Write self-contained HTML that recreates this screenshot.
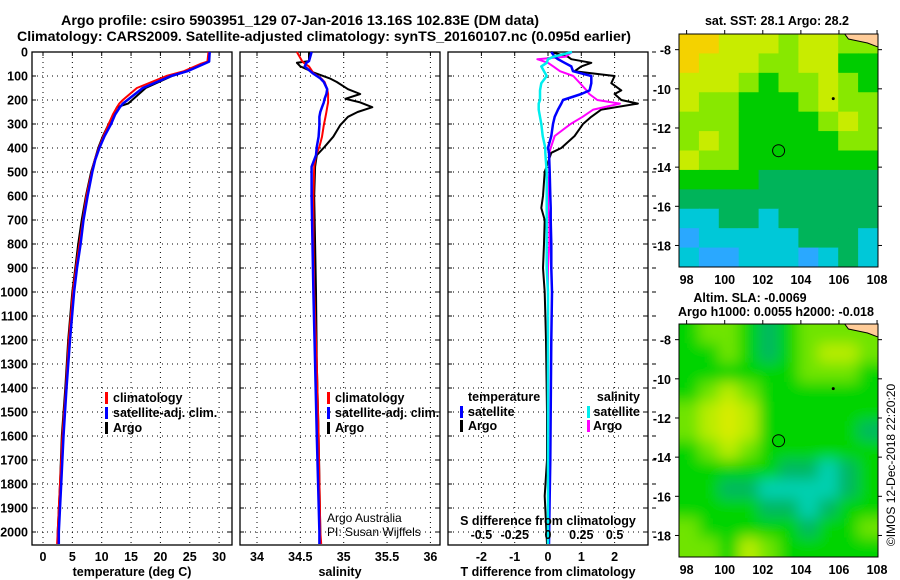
<!DOCTYPE html>
<html><head><meta charset="utf-8"><style>
html,body{margin:0;padding:0;background:#fff;}
svg{display:block;}
text{font-family:"Liberation Sans",sans-serif;font-weight:bold;font-size:12.5px;fill:#000;}
</style></head><body>
<svg id="chart" width="900" height="580" viewBox="0 0 900 580" xmlns="http://www.w3.org/2000/svg">
<text x="300" y="25" text-anchor="middle" style="font-size:14px" textLength="478" lengthAdjust="spacingAndGlyphs">Argo profile: csiro 5903951_129 07-Jan-2016 13.16S 102.83E (DM data)</text>
<text x="324" y="41" text-anchor="middle" style="font-size:14px" textLength="614" lengthAdjust="spacingAndGlyphs">Climatology: CARS2009. Satellite-adjusted climatology: synTS_20160107.nc (0.095d earlier)</text>
<g id="p1"></g>
<g id="p2"></g>
<g id="p3"></g>
<g id="m1"></g>
<g id="m2"></g>
<text transform="translate(895,465) rotate(-90)" text-anchor="middle" style="font-weight:normal;font-size:12px">©IMOS 12-Dec-2018 22:20:20</text>
</svg>
<script>
// ---- profile data ----
const tDepth = [0,40,50,80,100,150,200,215,230,260,300,350,400,450,500,600,700,800,900,1000,1200,1400,1600,1800,2000,2050];
const tArgo  = [28.3,28.3,27,24.5,22,17.5,15.2,14.5,12.6,12,11.2,10.2,9.4,8.8,8.2,7.3,6.6,6.0,5.5,5.0,4.3,3.8,3.2,2.9,2.5,2.5];
const tClim  = [28.2,28,26.8,24,21,16,13.6,13,12.6,11.9,11.2,10.3,9.5,8.8,8.3,7.4,6.8,6.2,5.6,5.1,4.4,3.9,3.3,2.9,2.5,2.4];
const tSat   = [28.4,28.3,27.4,24.6,21.8,17,14.4,13.6,13.1,12.3,11.6,10.5,9.6,8.9,8.4,7.6,6.9,6.4,5.8,5.3,4.6,4.0,3.5,3.1,2.7,2.7];
const sDepth = [0,38,45,60,88,110,125,155,175,195,210,230,250,270,305,353,395,430,478,600,800,1000,1300,1600,2000,2050];
const sArgo  = [34.6,34.6,34.46,34.5,34.67,34.84,34.92,35.05,35.19,35.02,35.19,35.33,35.16,35.05,34.96,34.88,34.78,34.69,34.67,34.66,34.67,34.68,34.69,34.71,34.73,34.73];
const sClim  = [34.46,34.52,34.54,34.6,34.65,34.74,34.78,34.81,34.82,34.82,34.82,34.81,34.8,34.79,34.77,34.75,34.72,34.68,34.66,34.65,34.65,34.66,34.69,34.71,34.73,34.74];
const sSat   = [34.63,34.6,34.57,34.55,34.64,34.73,34.77,34.81,34.8,34.78,34.77,34.75,34.73,34.72,34.72,34.71,34.69,34.68,34.63,34.63,34.64,34.65,34.67,34.69,34.72,34.72];
const dDepth = [0,20,30,45,60,80,100,130,160,175,200,215,240,270,300,350,400,420,500,600,650,700,800,900,1000,1200,1500,1700,1850,2050];
const dTArgo = [0.1,0.6,0.7,1.3,1.0,0.8,2.0,1.9,2.2,2.0,2.2,2.7,1.6,1.3,1.05,0.8,0.4,0.1,-0.1,-0.15,-0.2,-0.1,-0.12,-0.15,-0.1,-0.06,-0.03,-0.03,-0.1,-0.03];
const dTSat  = [0.1,0.2,0.3,0.5,0.7,0.75,1.3,1.3,1.25,1.0,0.45,0.4,0.3,0.2,0.15,0.1,0.0,0.03,0.05,0.07,0.08,0.08,0.1,0.1,0.12,0.1,0.08,0.07,0.05,0.03];
const dSArgo = [0.18,0.13,-0.08,0.0,0.04,0.09,0.19,0.24,0.29,0.31,0.37,0.54,0.34,0.26,0.17,0.05,0.02,0.01,0.01,0.0,0.0,0.01,0.01,0.0,0.0,0.0,0.0,0.0,0.0,0.0];
const dSSat  = [0.18,0.04,0.0,-0.01,-0.05,-0.03,-0.01,-0.05,-0.06,-0.06,-0.06,-0.07,-0.07,-0.06,-0.05,-0.04,-0.02,-0.02,-0.01,-0.01,-0.01,-0.01,-0.01,-0.01,0.0,0.0,0.0,0.0,0.0,0.0];
const depthTicks = [0,100,200,300,400,500,600,700,800,900,1000,1100,1200,1300,1400,1500,1600,1700,1800,1900,2000];
const tTicks = [0,5,10,15,20,25,30];
const sTicks = [34,34.5,35,35.5,36];
const sTickLabels = ["34","34.5","35","35.5","36"];
const dTTicks = [-2,-1,0,1,2];
const dSTicks = [-0.5,-0.25,0,0.25,0.5];
const dSTickLabels = ["-0.5","-0.25","0","0.25","0.5"];
// ---- map data (coarse grids, 10 cols x 12 rows; L = land) ----
const sstGrid = ["665554554L","6555445533","5554344543","5443334544","4443333454","4543333344","5443333333","3333222222","2222222222","1122122222","0111112221","1001110121"];
const slaGrid = ["344323444L","3343234554","3333334443","3454333333","4565333333","4565333332","3454333333","3333322123","3322111123","3333221233","4333332334","4435433333"];
const lonTicks = [98,100,102,104,106,108];
const latTicks = [-8,-10,-12,-14,-16,-18];
const argoLon = 102.83, argoLat = -13.16;

const NS="http://www.w3.org/2000/svg";
function mk(parent,tag,attrs){const e=document.createElementNS(NS,tag);for(const k in attrs)e.setAttribute(k,attrs[k]);parent.appendChild(e);return e;}
const Y0=52, Y1=545, DPX=0.24;
function yD(d){return Y0+d*DPX;}

function panel(g,left,right,xs,xticks,xlabels,gridx,labelYAxis){
  mk(g,'rect',{x:left,y:Y0,width:right-left,height:Y1-Y0,fill:'#fff',stroke:'#000','stroke-width':1.3});
  for(const d of depthTicks){
    const y=yD(d);
    const l=mk(g,'line',{x1:left,x2:right,y1:y,y2:y,stroke:'#000','stroke-width':1,'stroke-dasharray':'1,4'});
    
    
    mk(g,'line',{x1:left,x2:left+4,y1:y,y2:y,stroke:'#000'});
    mk(g,'line',{x1:right-4,x2:right,y1:y,y2:y,stroke:'#000'});
    if(labelYAxis){
      const t=mk(g,'text',{x:28,y:y+4.5,'text-anchor':'end'});
      t.textContent=d;
      
      
    }
  }
  for(let i=0;i<gridx.length;i++){
    const x=xs(gridx[i]);
    const l=mk(g,'line',{x1:x,x2:x,y1:Y0,y2:Y1,stroke:'#000','stroke-width':1,'stroke-dasharray':'1,4'});
    
    
    mk(g,'line',{x1:x,x2:x,y1:Y0,y2:Y0+4,stroke:'#000'});
  }
  for(let i=0;i<xticks.length;i++){
    const t=mk(g,'text',{x:xs(xticks[i]),y:561,'text-anchor':'middle'});
    t.textContent=xlabels[i];
    
    
  }
}
function series(g,xs,vals,depths,color,w,name){
  const pts=vals.map((v,i)=>xs(v).toFixed(1)+','+yD(depths[i]).toFixed(1)).join(' ');
  const p=mk(g,'polyline',{points:pts,fill:'none',stroke:color,'stroke-width':w,'stroke-linejoin':'round'});
  
  
}
function legend(g,x,y,color,label,name){
  mk(g,'rect',{x:x,y:y-10,width:3,height:12,fill:color});
  const t=mk(g,'text',{x:x+8,y:y});
  t.textContent=label;
  
  
}
function txt(g,x,y,s,anchor,name,style){
  const t=mk(g,'text',{x:x,y:y,'text-anchor':anchor||'start'});
  if(style)t.setAttribute('style',style);
  t.textContent=s;
  
  
  return t;
}

// Panel 1 temperature
const p1=document.getElementById('p1');
const xT=v=>43+v*5.87;
panel(p1,32,232,xT,tTicks,tTicks.map(String),tTicks,true);
series(p1,xT,tArgo,tDepth,'#000',2,'argo-temperature-line');
series(p1,xT,tClim,tDepth,'#f00',2,'climatology-temperature-line');
series(p1,xT,tSat,tDepth,'#00f',2.5,'satellite-temperature-line');
legend(p1,105,402,'#f00','climatology','legend-climatology');
legend(p1,105,417,'#00f','satellite-adj. clim.','legend-satellite');
legend(p1,105,432,'#000','Argo','legend-argo');
txt(p1,132,576,'temperature (deg C)','middle','x-axis-title');

// Panel 2 salinity
const p2=document.getElementById('p2');
const xS=v=>257+(v-34)*86.7;
panel(p2,240,440,xS,sTicks,sTickLabels,sTicks,false);
series(p2,xS,sArgo,sDepth,'#000',2,'argo-salinity-line');
series(p2,xS,sClim,sDepth,'#f00',2,'climatology-salinity-line');
series(p2,xS,sSat,sDepth,'#00f',2.5,'satellite-salinity-line');
legend(p2,327,402,'#f00','climatology','legend-climatology');
legend(p2,327,417,'#00f','satellite-adj. clim.','legend-satellite');
legend(p2,327,432,'#000','Argo','legend-argo');
txt(p2,327,522,'Argo Australia','start','argo-australia-note','font-weight:normal;font-size:12px');
txt(p2,327,536,'PI: Susan Wijffels','start','pi-note','font-weight:normal;font-size:12px');
txt(p2,340,576,'salinity','middle','x-axis-title');

// Panel 3 differences
const p3=document.getElementById('p3');
const xDT=v=>548+v*33.3;
const xDS=v=>548+v*133.2;
panel(p3,448,648,xDT,dTTicks,dTTicks.map(String),dTTicks,false);
for(const d of depthTicks){mk(p3,'line',{x1:652,x2:656,y1:yD(d),y2:yD(d),stroke:'#000'});}
series(p3,xDT,dTArgo,dDepth,'#000',2,'argo-temperature-diff-line');
series(p3,xDS,dSArgo,dDepth,'#f0f',2,'argo-salinity-diff-line');
series(p3,xDT,dTSat,dDepth,'#00f',2.5,'satellite-temperature-diff-line');
series(p3,xDS,dSSat,dDepth,'#0ee',2.5,'satellite-salinity-diff-line');
txt(p3,468,401,'temperature','start','legend-temperature-heading');
legend(p3,460,416,'#00f','satellite','legend-temp-satellite');
legend(p3,460,430,'#000','Argo','legend-temp-argo');
txt(p3,640,401,'salinity','end','legend-salinity-heading');
mk(p3,'rect',{x:587,y:406,width:3,height:12,fill:'#0ee'});
txt(p3,640,416,'satellite','end','legend-sal-satellite');
mk(p3,'rect',{x:587,y:420,width:3,height:12,fill:'#f0f'});
txt(p3,593,430,'Argo','start','legend-sal-argo');
txt(p3,548,525,'S difference from climatology','middle','s-axis-title');
for(let i=0;i<dSTicks.length;i++){txt(p3,xDS(dSTicks[i]),539,dSTickLabels[i],'middle','s-tick-label');}
txt(p3,548,576,'T difference from climatology','middle','x-axis-title');

// Maps
const sstColors={'0':'#2aa8ff','1':'#00c8d8','2':'#00b45a','3':'#00cc00','4':'#88e800','5':'#c8ec00','6':'#f4d200'};
const slaColors={'1':'#00d0b0','2':'#00b860','3':'#00d400','4':'#70e400','5':'#b8ec00','6':'#d8ec00'};
function map(g,top,grid,colors,blur,id){
  const L=679,R=878,B=top+233;
  const lon0=97.6,lon1=108.05,lat0=-7.2,lat1=-19.1;
  const xm=v=>L+(v-lon0)/(lon1-lon0)*(R-L);
  const ym=v=>top+(v-lat0)/(lat1-lat0)*(B-top);
  const cp=mk(g,'clipPath',{id:'c'+id});mk(cp,'rect',{x:L,y:top,width:R-L,height:B-top});
  const inner=mk(g,'g',{'clip-path':'url(#c'+id+')'});
  const cells=mk(inner,'g',blur?{filter:'url(#f'+id+')'}:{});
  if(blur){const f=mk(g,'filter',{id:'f'+id,x:'-10%',y:'-10%',width:'120%',height:'120%'});mk(f,'feGaussianBlur',{stdDeviation:7});}
  const nr=grid.length,nc=grid[0].length,cw=(R-L)/nc,ch=(B-top)/nr;
  for(let r=0;r<nr;r++)for(let c=0;c<nc;c++){
    let v=grid[r][c];if(v==='L')v=grid[r][c-1];
    const cell=mk(cells,'rect',{x:L+c*cw-(c==0?15:0),y:top+r*ch-(r==0?15:0),width:cw+(c==0||c==nc-1?16:0.5),height:ch+(r==0||r==nr-1?16:0.5),fill:colors[v]});
    
    
  }
  const land=mk(inner,'path',{d:`M${xm(106.3)},${top} L${xm(106.5)},${top+5} L${xm(107)},${top+7} L${xm(107.5)},${top+9} L${xm(108.05)},${top+13} L${R},${top} Z`,fill:'#ffcc99',stroke:'#000','stroke-width':1});
  
  
  mk(g,'rect',{x:L,y:top,width:R-L,height:B-top,fill:'none',stroke:'#000','stroke-width':1});
  const mk1=mk(g,'circle',{cx:xm(argoLon),cy:ym(argoLat),r:6,fill:'none',stroke:'#000','stroke-width':1});
  
  
  mk(g,'circle',{cx:xm(105.7),cy:ym(-10.5),r:1.5,fill:'#000'});
  for(const t of lonTicks){mk(g,'line',{x1:xm(t),x2:xm(t),y1:top,y2:top-4,stroke:'#000'});txt(g,xm(t),B+17,String(t),'middle','lon-tick-label');}
  for(const t of latTicks){mk(g,'line',{x1:L,x2:L-4,y1:ym(t),y2:ym(t),stroke:'#000'});mk(g,'line',{x1:R,x2:R+4,y1:ym(t),y2:ym(t),stroke:'#000'});txt(g,671,ym(t)+5,String(t),'end','lat-tick-label');}
}
const m1=document.getElementById('m1');
txt(m1,777,25,'sat. SST: 28.1 Argo: 28.2','middle','sst-map-title');
map(m1,34,sstGrid,sstColors,false,1);
const m2=document.getElementById('m2');
txt(m2,750,302,'Altim. SLA: -0.0069','middle','sla-map-title');
txt(m2,776,316,'Argo h1000: 0.0055 h2000: -0.018','middle','sla-map-subtitle');
map(m2,324,slaGrid,slaColors,true,2);
</script>
</body></html>
